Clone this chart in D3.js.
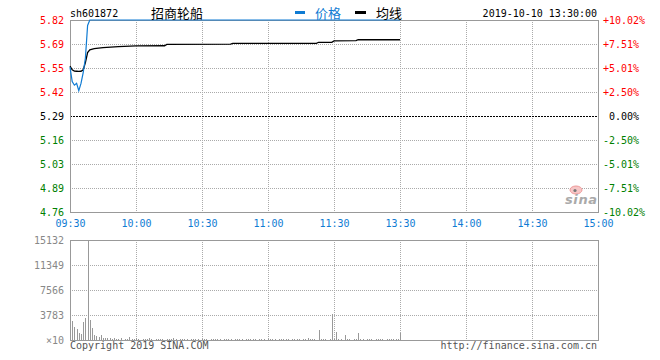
<!DOCTYPE html>
<html><head><meta charset="utf-8">
<script src="https://cdn.jsdelivr.net/npm/d3@7"></script>
<style>
html,body{margin:0;padding:0;background:#fff;}
svg{display:block;}
text{font-family:"DejaVu Sans Mono",monospace;font-size:10px;}
</style></head><body>
<svg id="chart" width="660" height="360"></svg>
<script>
// ---------------- data ----------------
const symbol = "sh601872";
const stockName = "招商轮船";
const stamp = "2019-10-10 13:30:00";
const legendLabels = ["价格", "均线"];
const preClose = 5.29;

const timeLabels = ["09:30","10:00","10:30","11:00","11:30","13:30","14:00","14:30","15:00"];
const timeIndex  = [0, 30, 60, 90, 120, 150, 180, 210, 240];

const pctTicks  = [10.02, 7.51, 5.01, 2.50, 0, -2.50, -5.01, -7.51, -10.02];
const pctLabels = ["+10.02%","+7.51%","+5.01%","+2.50%","0.00%","-2.50%","-5.01%","-7.51%","-10.02%"];
const priceLabels = ["5.82","5.69","5.55","5.42","5.29","5.16","5.03","4.89","4.76"];

const priceTimes  = ["09:30","09:31","09:32","09:33","09:34","09:35","09:36","09:37","09:38","09:39","13:30"];
const priceValues = [5.56, 5.48, 5.46, 5.47, 5.43, 5.47, 5.53, 5.61, 5.79, 5.82, 5.82];

const avgTimes  = ["09:30","09:31","09:32","09:33","09:34","09:35","09:36","09:37","09:38","09:39","09:41","09:45","09:52","10:00","10:13","10:14","10:43","10:44","11:22","11:23","11:29","13:00","13:10","13:11","13:30"];
const avgValues = [5.565, 5.545, 5.538, 5.537, 5.536, 5.537, 5.545, 5.585, 5.640, 5.655, 5.662, 5.668, 5.673, 5.677, 5.678, 5.685, 5.687, 5.691, 5.691, 5.697, 5.697, 5.705, 5.706, 5.711, 5.711];

const volumeValues = [
  6800,2900,2000,1600,1100,850,2700,3400,15132,3000,
  1750,750,600,450,700,300,350,250,300,150,
  300,200,150,250,0,200,150,500,200,150,
  250,150,0,150,200,150,300,150,0,150,
  200,150,150,0,200,150,150,300,150,0,
  150,200,150,150,0,150,150,200,150,0,
  150,150,150,0,150,200,150,150,150,0,
  150,150,200,150,0,150,150,150,150,0,
  150,150,150,150,150,0,150,150,150,0,
  150,150,150,150,0,150,150,150,150,150,
  0,150,150,150,150,0,150,150,300,150,
  150,150,0,1500,150,150,150,0,150,3900,
  150,1200,150,150,0,750,150,150,0,150,
  150,1100,150,150,0,150,150,150,0,150,
  150,150,150,0,150,150,150,150,150,150,
  1050
];
const volTicks  = [15132, 11349, 7566, 3783, 0];
const volLabels = ["15132","11349","7566","3783","×10"];

// ---------------- layout ----------------
const L = 70, R = 598, PT = 20, PB = 212, VT = 240, VB = 340;
const BLUE = "#0f7bd3", RED = "#ff0000", GREEN = "#008000", GRID = "#aaa", BORDER = "#999";

function minuteIndex(t){
  const [h,m] = t.split(":").map(Number);
  const mins = h*60+m;
  return mins <= 690 ? mins-570 : mins-780+120;
}

const svg = d3.select("#chart");
const x = d3.scaleLinear().domain([0,240]).range([L,R]);
const yPct = d3.scaleLinear().domain([-10.02,10.02]).range([PB,PT]);
const yPrice = d3.scaleLinear().domain([preClose*(1-0.1002), preClose*(1+0.1002)]).range([PB,PT]);
const yVol = d3.scaleLinear().domain([0, d3.max(volTicks)]).range([VB,VT]);
const px = v => Math.round(v)+0.5;

// grids
const grid = svg.append("g").attr("shape-rendering","crispEdges");
const innerTimes = timeIndex.filter(i => i>0 && i<240);
grid.selectAll(".vgp").data(innerTimes).join("line")
  .attr("x1",d=>px(x(d))).attr("x2",d=>px(x(d))).attr("y1",PT).attr("y2",PB)
  .attr("stroke",GRID).attr("stroke-dasharray","1,1");
grid.selectAll(".vgv").data(innerTimes).join("line").attr("class","vgv")
  .attr("x1",d=>px(x(d))).attr("x2",d=>px(x(d))).attr("y1",VT).attr("y2",VB)
  .attr("stroke",GRID).attr("stroke-dasharray","1,1");
grid.selectAll(".hgp").data(pctTicks.filter(d=>Math.abs(d)<10 && d!==0)).join("line").attr("class","hgp")
  .attr("x1",L).attr("x2",R).attr("y1",d=>px(yPct(d))).attr("y2",d=>px(yPct(d)))
  .attr("stroke",GRID).attr("stroke-dasharray","1,1");
grid.append("line").attr("x1",L).attr("x2",R).attr("y1",px(yPct(0))).attr("y2",px(yPct(0)))
  .attr("stroke","#000").attr("stroke-dasharray","2,1");
grid.selectAll(".hgv").data(volTicks.filter(d=>d>0 && d<d3.max(volTicks))).join("line").attr("class","hgv")
  .attr("x1",L).attr("x2",R).attr("y1",d=>px(yVol(d))).attr("y2",d=>px(yVol(d)))
  .attr("stroke",GRID).attr("stroke-dasharray","1,1");

// borders
grid.append("rect").attr("x",L+0.5).attr("y",PT+0.5).attr("width",R-L).attr("height",PB-PT)
  .attr("fill","none").attr("stroke",BORDER);
grid.append("rect").attr("x",L+0.5).attr("y",VT+0.5).attr("width",R-L).attr("height",VB-VT)
  .attr("fill","none").attr("stroke",BORDER);

// sina watermark
const wm = svg.append("g");
wm.append("ellipse").attr("cx",576).attr("cy",190).attr("rx",6).attr("ry",4)
  .attr("fill","#f6c6c6").attr("stroke","#e99").attr("stroke-width",1);
wm.append("circle").attr("cx",575).attr("cy",190.5).attr("r",1.6).attr("fill","#777");
wm.append("text").attr("x",565).attr("y",204).attr("textLength",32)
  .style("font-family","DejaVu Sans").style("font-weight","bold").style("font-style","italic")
  .style("font-size","13px").attr("fill","#aaa").text("sina");

// volume bars
svg.append("g").attr("shape-rendering","crispEdges").selectAll("rect").data(volumeValues).join("rect")
  .attr("x",(d,i)=>Math.round(x(i))).attr("width",1)
  .attr("y",d=>yVol(d)).attr("height",d=>VB-yVol(d))
  .attr("fill","#999");

// lines
const avgData = avgTimes.map((t,i)=>({t, v:avgValues[i]}));
const priceData = priceTimes.map((t,i)=>({t, v:priceValues[i]}));
const line = d3.line().x(d=>x(minuteIndex(d.t))).y(d=>yPrice(d.v));
svg.append("path").datum(avgData).attr("d",line).attr("fill","none").attr("stroke","#000").attr("stroke-width",1.3);
svg.append("path").datum(priceData).attr("d",line).attr("fill","none").attr("stroke",BLUE).attr("stroke-width",1.2);

// axes
const colorOf = v => v>0 ? RED : (v<0 ? GREEN : "#000");
const leftAx = svg.append("g").attr("transform",`translate(${L},0)`)
  .call(d3.axisLeft(yPct).tickValues(pctTicks).tickFormat((d,i)=>priceLabels[i]).tickSize(0).tickPadding(6));
leftAx.select(".domain").remove();
leftAx.selectAll("text").attr("fill",d=>colorOf(d)).style("font-family","DejaVu Sans Mono").style("font-size","10px");

const rightAx = svg.append("g").attr("transform",`translate(${R},0)`)
  .call(d3.axisRight(yPct).tickValues(pctTicks).tickFormat((d,i)=>pctLabels[i]).tickSize(0).tickPadding(5));
rightAx.select(".domain").remove();
rightAx.selectAll("text").attr("fill",d=>colorOf(d)).attr("dx",d=>d===0?"0.6em":0)
  .style("font-family","DejaVu Sans Mono").style("font-size","10px");

const botAx = svg.append("g").attr("transform",`translate(0,${PB})`)
  .call(d3.axisBottom(x).tickValues(timeIndex).tickFormat((d,i)=>timeLabels[i]).tickSize(0).tickPadding(8));
botAx.select(".domain").remove();
botAx.selectAll("text").attr("fill",BLUE).style("font-family","DejaVu Sans Mono").style("font-size","10px");

const volAx = svg.append("g").attr("transform",`translate(${L},0)`)
  .call(d3.axisLeft(yVol).tickValues(volTicks).tickFormat((d,i)=>volLabels[i]).tickSize(0).tickPadding(6));
volAx.select(".domain").remove();
volAx.selectAll("text").attr("fill","#888").style("font-family","DejaVu Sans Mono").style("font-size","10px");

// header
svg.append("text").attr("x",70).attr("y",17).attr("fill","#000").text(symbol);
svg.append("text").attr("x",151).attr("y",18).attr("fill","#000")
  .style("font-family","'Noto Sans CJK SC'").style("font-size","13px").text(stockName);
svg.append("rect").attr("x",295).attr("y",11).attr("width",10).attr("height",3).attr("fill",BLUE);
svg.append("text").attr("x",315).attr("y",18).attr("fill",BLUE)
  .style("font-family","'Noto Sans CJK SC'").style("font-size","13px").text(legendLabels[0]);
svg.append("rect").attr("x",355).attr("y",11).attr("width",11).attr("height",3).attr("fill","#000");
svg.append("text").attr("x",376).attr("y",18).attr("fill","#000")
  .style("font-family","'Noto Sans CJK SC'").style("font-size","13px").text(legendLabels[1]);
svg.append("text").attr("x",597).attr("y",17).attr("text-anchor","end").attr("fill","#000").text(stamp);

// footer
svg.append("text").attr("x",70).attr("y",349).attr("fill","#555").text("Copyright 2019 SINA.COM");
svg.append("text").attr("x",597).attr("y",349).attr("text-anchor","end").attr("fill","#555").text("http://finance.sina.com.cn");
</script>
</body></html>
